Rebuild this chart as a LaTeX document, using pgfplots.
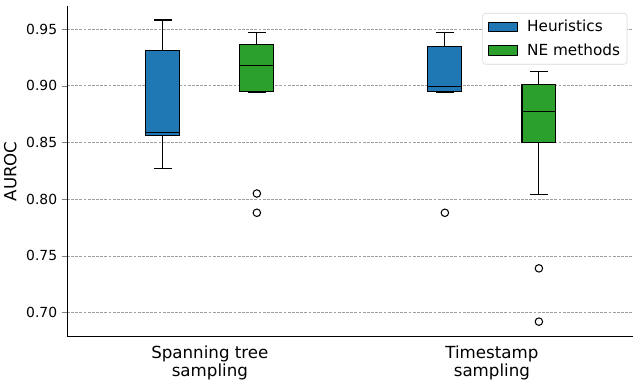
\documentclass[border=0pt]{standalone}
\usepackage{pgfplots}
\pgfplotsset{compat=1.18}
\usepgfplotslibrary{statistics}
\usepackage{fontspec}
\setmainfont{DejaVu Sans}
\definecolor{cblue}{HTML}{1F77B4}
\definecolor{cgreen}{HTML}{2CA02C}

\begin{document}
\begin{tikzpicture}
\useasboundingbox (-48.2pt,-37.2pt) rectangle (412.6pt,242.2pt);
\begin{axis}[
  at={(0,0)}, anchor=south west,
  width=407.5pt, height=237.6pt, scale only axis,
  xmin=-0.02, xmax=6.0, ymin=0.679, ymax=0.970,
  axis x line*=bottom, axis y line*=left,
  axis line style={line width=0.6pt},
  xtick={1.5,4.5},
  xticklabels={Spanning tree\\ sampling, Timestamp\\ sampling},
  xticklabel style={align=center, font=\fontsize{12}{13}\selectfont},
  x tick style={draw=none},
  ytick={0.70,0.75,0.80,0.85,0.90,0.95},
  yticklabel style={/pgf/number format/.cd, fixed, fixed zerofill, precision=2},
  /pgf/number format/assume math mode=true,
  ticklabel style={font=\fontsize{10}{12}\selectfont},
  tick align=outside, major tick length=3.5pt,
  ymajorgrids, grid style={gray!75, dash pattern=on 2pt off 1pt, line width=0.45pt},
  ylabel={AUROC}, ylabel style={font=\fontsize{12}{14}\selectfont},
  legend style={at={(0.99,0.98)}, anchor=north east, draw=black!15, rounded corners=2pt,
    font=\fontsize{11}{13}\selectfont, row sep=3pt, inner xsep=3pt, inner ysep=3pt},
  legend cell align=left,
  legend image code/.code={\draw[#1, line width=0.75pt, sharp corners] (0pt,-3.5pt) rectangle (21pt,3.5pt);
    \path[draw=none, fill=none] (-1pt,0pt) -- (26pt,0pt);},
  boxplot/draw direction=y,
  boxplot/every median/.style={black, line width=0.8pt},
]
\addlegendimage{fill=cblue, draw=black}
\addlegendentry{Heuristics}
\addlegendimage{fill=cgreen, draw=black}
\addlegendentry{NE methods}

% Spanning tree sampling
\addplot[boxplot prepared={draw position=1, lower whisker=0.827, lower quartile=0.856,
  median=0.859, upper quartile=0.931, upper whisker=0.958, box extend=0.36, whisker extend=0.19},
  fill=cblue, draw=black, line width=0.75pt, forget plot] coordinates {};
\addplot[boxplot prepared={draw position=2, lower whisker=0.894, lower quartile=0.895,
  median=0.918, upper quartile=0.936, upper whisker=0.947, box extend=0.36, whisker extend=0.19},
  fill=cgreen, draw=black, line width=0.75pt, forget plot, mark=o, mark size=2.7pt,
  mark options={black, fill=white, line width=0.75pt}]
  table[row sep=\\, y index=0] {data\\ 0.805\\ 0.788\\};

% Timestamp sampling
\addplot[boxplot prepared={draw position=4, lower whisker=0.894, lower quartile=0.895,
  median=0.899, upper quartile=0.935, upper whisker=0.947, box extend=0.36, whisker extend=0.19},
  fill=cblue, draw=black, line width=0.75pt, forget plot, mark=o, mark size=2.7pt,
  mark options={black, fill=white, line width=0.75pt}]
  table[row sep=\\, y index=0] {data\\ 0.788\\};
\addplot[boxplot prepared={draw position=5, lower whisker=0.804, lower quartile=0.850,
  median=0.877, upper quartile=0.901, upper whisker=0.913, box extend=0.36, whisker extend=0.19},
  fill=cgreen, draw=black, line width=0.75pt, forget plot, mark=o, mark size=2.7pt,
  mark options={black, fill=white, line width=0.75pt}]
  table[row sep=\\, y index=0] {data\\ 0.739\\ 0.692\\};
\end{axis}
\end{tikzpicture}
\end{document}
